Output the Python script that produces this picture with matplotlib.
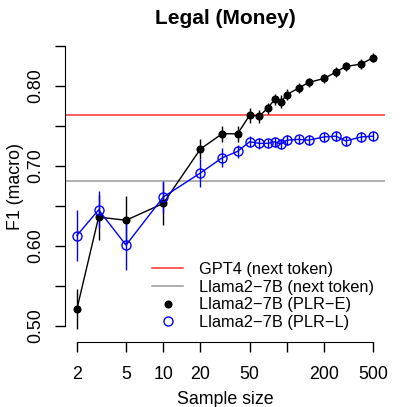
import matplotlib.pyplot as plt
from matplotlib.lines import Line2D

plt.rcParams['font.family'] = ['Liberation Sans', 'DejaVu Sans']

# values
sample_sizes = [2, 3, 5, 10, 20, 30, 40, 50, 60, 70, 80, 90, 100, 125, 150, 200, 250, 300, 400, 500]
plr_e = [0.521, 0.636, 0.632, 0.653, 0.721, 0.740, 0.740, 0.763, 0.762, 0.772,
         0.783, 0.780, 0.789, 0.797, 0.804, 0.809, 0.817, 0.824, 0.827, 0.835]
plr_e_err = [0.025, 0.028, 0.030, 0.027, 0.012, 0.010, 0.010, 0.009, 0.008, 0.007,
             0.007, 0.008, 0.007, 0.006, 0.006, 0.006, 0.006, 0.006, 0.006, 0.006]
plr_l = [0.613, 0.645, 0.601, 0.661, 0.691, 0.710, 0.718, 0.730, 0.728, 0.728,
         0.730, 0.727, 0.732, 0.733, 0.732, 0.736, 0.737, 0.731, 0.736, 0.737]
plr_l_err = [0.032, 0.023, 0.031, 0.020, 0.018, 0.012, 0.008, 0.007, 0.007, 0.006,
             0.006, 0.006, 0.006, 0.006, 0.006, 0.006, 0.006, 0.006, 0.006, 0.006]
gpt4_next = 0.764
llama_next = 0.681

x_ticks = [2, 5, 10, 20, 50, 100, 200, 500]
x_tick_labels = ['2', '5', '10', '20', '50', '', '200', '500']
y_ticks = [0.50, 0.55, 0.60, 0.65, 0.70, 0.75, 0.80, 0.85]
y_tick_labels = ['0.50', '', '0.60', '', '0.70', '', '0.80', '']

fig = plt.figure(figsize=(4.07, 4.07), dpi=100)
ax = fig.add_axes([65 / 407, 65.5 / 407, 320 / 407, 317.5 / 407])

ax.axhline(gpt4_next, color='#ff3030', lw=1.1)
ax.axhline(llama_next, color='#9a9a9a', lw=1.1)

ax.errorbar(sample_sizes, plr_e, yerr=plr_e_err, color='black', lw=1, elinewidth=1,
            marker='o', ms=4.8, mfc='black', mec='black', capsize=0)
ax.errorbar(sample_sizes, plr_l, yerr=plr_l_err, color='blue', lw=1, elinewidth=1,
            marker='o', ms=6.5, mfc='none', mec='blue', mew=1, capsize=0)

ax.set_xscale('log')
ax.set_xlim(10 ** 0.205, 10 ** 2.795)
ax.set_ylim(0.4807, 0.877)
ax.set_xticks(x_ticks)
ax.set_xticklabels(x_tick_labels)
ax.minorticks_off()
ax.set_yticks(y_ticks)
ax.set_yticklabels(y_tick_labels, rotation=90, va='center')

for s in ['top', 'right']:
    ax.spines[s].set_visible(False)
ax.spines['left'].set_bounds(0.50, 0.85)
ax.spines['bottom'].set_bounds(2, 500)
ax.tick_params(direction='out', length=7.5, width=1, labelsize=12.8)
ax.tick_params(axis='x', pad=10)
ax.tick_params(axis='y', pad=7.5)

ax.set_xlabel('Sample size', fontsize=12.8, labelpad=6)
ax.set_ylabel('F1 (macro)', fontsize=12.8)
ax.yaxis.set_label_coords(-41 / 320, (407 - 186 - 65.5) / 317.5)
fig.text(225 / 407, 1 - 18 / 407, 'Legal (Money)', ha='center', va='center',
         fontsize=15, fontweight='bold')

handles = [
    Line2D([], [], color='#ff3030', lw=1.1),
    Line2D([], [], color='#9a9a9a', lw=1.1),
    Line2D([], [], color='black', ls='none', marker='o', ms=4.8),
    Line2D([], [], color='blue', ls='none', marker='o', ms=6.5, mfc='none'),
]
labels = ['GPT4 (next token)', 'Llama2\u22127B (next token)',
          'Llama2\u22127B (PLR\u2212E)', 'Llama2\u22127B (PLR\u2212L)']
fig.legend(handles, labels, loc='upper left', bbox_to_anchor=(152 / 407, 1 - 262 / 407),
           frameon=False, fontsize=11.8, handlelength=1.9, handletextpad=0.95,
           labelspacing=0.16, borderpad=0, borderaxespad=0)

fig.savefig('out.png', dpi=100)
